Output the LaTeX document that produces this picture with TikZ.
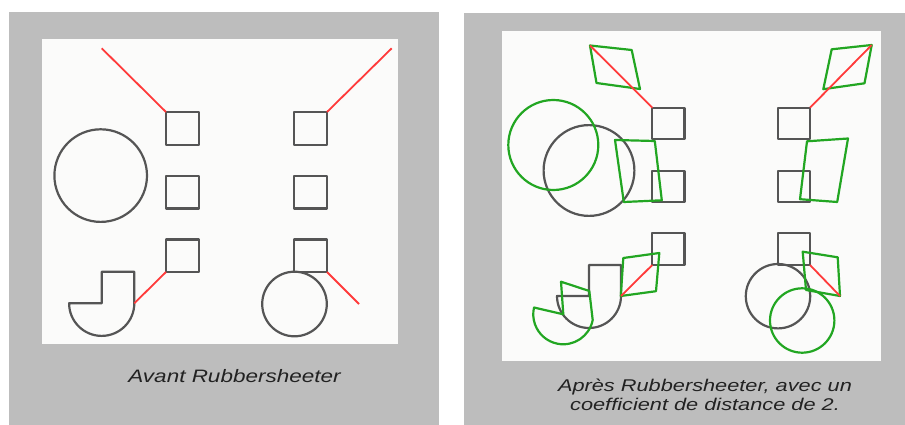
\documentclass[tikz,border=0pt]{standalone}
\usepackage{fontspec}
\setmainfont{Liberation Sans}
\definecolor{panelgray}{HTML}{BDBDBD}
\definecolor{sheet}{HTML}{FBFBFA}
\definecolor{shapegray}{HTML}{555555}
\definecolor{movedgreen}{HTML}{22A622}
\definecolor{linkred}{HTML}{FF3A3A}
\definecolor{captext}{HTML}{222222}
\tikzset{
  origshape/.style={draw=shapegray, line width=2.2pt, line join=round},
  newshape/.style={draw=movedgreen, line width=2.2pt, line join=round},
  redlink/.style={draw=linkred, line width=1.8pt},
  captiontext/.style={font=\itshape, text=captext, inner sep=0pt, anchor=base}
}
\begin{document}
\begin{tikzpicture}[x=1pt,y=1pt,yscale=-1]
\useasboundingbox (0,0) rectangle (905,425);
\fill[white] (0,0) rectangle (905,425);
% panels
\fill[panelgray] (9,12) rectangle (439,425);
\fill[sheet] (42,39) rectangle (398,344);
\fill[panelgray] (464,13) rectangle (905,425);
\fill[sheet] (501.7,30.7) rectangle (880.7,360.7);

% ---------- left panel : before ----------
\draw[origshape] (166,112) rectangle (199,145);
\draw[origshape] (166,176) rectangle (199,208.5);
\draw[origshape] (166,239.5) rectangle (199,272);
\draw[origshape] (294,112) rectangle (327,145);
\draw[origshape] (294,176) rectangle (327,208.5);
\draw[origshape] (294,239.5) rectangle (327,272);
\draw[origshape] (100.7,175.6) circle[radius=46.3];
\draw[origshape] (101.7,303.3) -- (101.7,271.7) -- (134.3,271.7) -- (134.3,303.3)
   arc[start angle=0, end angle=180, radius=32.6] -- cycle;
\draw[origshape] (294.5,304) circle[radius=32.3];
\draw[redlink] (101.7,48.3) -- (166,112);
\draw[redlink] (327,112) -- (391.7,48.3);
\draw[redlink] (134.3,303.3) -- (166,272);
\draw[redlink] (327,272) -- (359,304);
\node[captiontext] (capleft) at (234.5,382.7) {\fontsize{18}{20}\selectfont\scalebox{1.25}[1]{Avant Rubbersheeter}};

% ---------- right panel : after ----------
\draw[origshape] (652.3,107.7) rectangle (684.5,139);
\draw[origshape] (652.3,170.7) rectangle (684.5,202);
\draw[origshape] (652.3,233.3) rectangle (684.5,265);
\draw[origshape] (777.7,107.7) rectangle (810,139);
\draw[origshape] (777.7,170.7) rectangle (810,202);
\draw[origshape] (777.7,233.3) rectangle (810,265);
\draw[origshape] (589,170.5) circle[radius=45.4];
\draw[origshape] (589,296) -- (589,265) -- (621,265) -- (621,296)
   arc[start angle=0, end angle=180, radius=32] -- cycle;
\draw[origshape] (778,296.2) circle[radius=32.2];

% rubbersheeted shapes
\draw[newshape] (590,45.5) -- (631.7,50) -- (640,89) -- (596.5,83) -- cycle;
\draw[newshape] (871.7,45) -- (831.7,49.3) -- (823.3,89.2) -- (864.5,83.3) -- cycle;
\draw[newshape] (553.3,145) circle[radius=45];
\draw[newshape] (615,140) -- (654.8,141) -- (661.8,200.3) -- (623.8,202) -- cycle;
\draw[newshape] (807,141.3) -- (848,138.5) -- (837.2,202) -- (800,199.2) -- cycle;
\draw[newshape] (620.8,296) -- (623.3,258) -- (659.3,253) -- (656,291.2) -- cycle;
\draw[newshape] (561,281.7) -- (589.3,291) -- (592.7,320)
   arc[start angle=11, end angle=193, radius=30] -- (563.3,314.3) -- cycle;
\draw[newshape] (802.7,251.7) -- (837.7,257.3) -- (840,296) -- (806,290) -- cycle;
\draw[newshape] (802.2,320.5) circle[radius=32.2];

\draw[redlink] (590,45.5) -- (652.3,107.7);
\draw[redlink] (871.7,45) -- (810,107.7);
\draw[redlink] (621,296) -- (652.3,265);
\draw[redlink] (810,265) -- (840,296);

\node[captiontext] (capright1) at (705,391.5) {\fontsize{17}{20}\selectfont\scalebox{1.28}[1]{Après Rubbersheeter, avec un}};
\node[captiontext] (capright2) at (705,410) {\fontsize{17}{20}\selectfont\scalebox{1.28}[1]{coefficient de distance de 2.}};
\end{tikzpicture}
\end{document}
